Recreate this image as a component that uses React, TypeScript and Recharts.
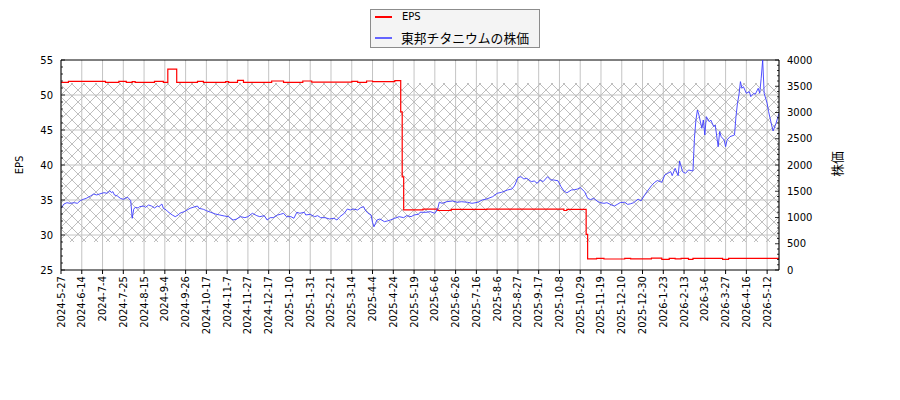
import React from "react";
import {
  LineChart,
  Line,
  XAxis,
  YAxis,
  CartesianGrid,
  ReferenceArea,
  ReferenceLine,
  Legend,
} from "recharts";

// x axis: trading-day index, one label every 14 trading days
const tickDates = [
  "2024-5-27", "2024-6-14", "2024-7-4", "2024-7-25", "2024-8-15", "2024-9-4",
  "2024-9-26", "2024-10-17", "2024-11-7", "2024-11-27", "2024-12-17", "2025-1-10",
  "2025-1-31", "2025-2-21", "2025-3-14", "2025-4-4", "2025-4-24", "2025-5-19",
  "2025-6-6", "2025-6-26", "2025-7-16", "2025-8-6", "2025-8-27", "2025-9-17",
  "2025-10-8", "2025-10-29", "2025-11-19", "2025-12-10", "2025-12-30", "2026-1-23",
  "2026-2-13", "2026-3-6", "2026-3-27", "2026-4-16", "2026-5-12",
];
const tickStep = 14;
const lastDay = 484;

// 株価 (right axis)
const priceDay = [
  0, 2, 4, 6, 9, 11, 13, 15, 17, 20, 22, 24, 26, 29, 31, 33, 34, 35, 36, 38,
  40, 42, 44, 45, 47, 48, 49, 50, 52, 53, 56, 57, 59, 61, 63, 65, 66, 68, 69, 71,
  72, 75, 77, 79, 80, 83, 85, 87, 89, 92, 93, 96, 98, 101, 104, 107, 110, 113, 116, 118,
  121, 124, 126, 129, 132, 134, 137, 139, 141, 143, 146, 148, 150, 152, 155, 157, 159, 161, 164, 165,
  168, 171, 173, 175, 178, 181, 184, 186, 188, 191, 193, 195, 197, 200, 202, 204, 205, 207, 209, 210,
  211, 212, 213, 215, 218, 220, 222, 225, 228, 231, 233, 236, 238, 241, 242, 246, 249, 252, 254, 255,
  257, 260, 264, 267, 270, 274, 277, 281, 284, 287, 291, 294, 297, 301, 304, 306, 308, 310, 312, 314,
  317, 319, 321, 323, 325, 328, 330, 332, 335, 337, 339, 341, 344, 346, 348, 350, 353, 355, 357, 359,
  362, 364, 366, 368, 371, 373, 375, 377, 380, 382, 384, 386, 389, 391, 393, 395, 398, 400, 402, 405,
  407, 409, 411, 412, 414, 416, 417, 419, 421, 423, 426, 427, 428, 429, 430, 432, 433, 434, 435, 437,
  438, 440, 441, 443, 444, 445, 447, 448, 449, 451, 454, 455, 456, 457, 458, 459, 460, 462, 464, 465,
  467, 468, 470, 471, 472, 473, 474, 476, 477, 479, 480, 482, 483, 484,
];
const priceVal = [
  1175, 1257, 1282, 1270, 1282, 1270, 1320, 1346, 1365, 1410, 1448, 1429, 1448, 1473, 1461, 1511, 1473, 1492, 1429, 1410,
  1365, 1346, 1378, 1384, 1320, 985, 1156, 1194, 1181, 1206, 1219, 1194, 1238, 1219, 1181, 1219, 1206, 1257, 1175, 1143,
  1111, 1048, 1016, 1048, 1080, 1111, 1143, 1175, 1194, 1219, 1175, 1156, 1130, 1099, 1067, 1048, 1029, 1016, 952, 966,
  1016, 997, 1016, 1080, 1035, 1016, 1035, 952, 997, 997, 1048, 1061, 1080, 1016, 1016, 985, 1099, 1080, 1099, 1048,
  1061, 1016, 1035, 997, 997, 972, 985, 952, 1016, 1080, 1162, 1143, 1162, 1143, 1187, 1206, 1143, 1080, 1048, 908,
  825, 889, 952, 972, 921, 934, 952, 985, 1016, 997, 1035, 1016, 1048, 1061, 1100, 1099, 1111, 1080, 1175, 1290,
  1270, 1301, 1314, 1290, 1301, 1290, 1270, 1290, 1334, 1353, 1397, 1461, 1480, 1524, 1543, 1619, 1759, 1778, 1734, 1746,
  1683, 1696, 1651, 1715, 1683, 1778, 1715, 1715, 1700, 1590, 1505, 1470, 1524, 1530, 1540, 1570, 1490, 1365, 1340, 1365,
  1301, 1280, 1270, 1282, 1240, 1219, 1250, 1285, 1290, 1250, 1262, 1282, 1350, 1315, 1410, 1492, 1605, 1665, 1705, 1670,
  1810, 1842, 1873, 1797, 1937, 1797, 2076, 1873, 1842, 1905, 1886, 2509, 2857, 3048, 2953, 2699, 2857, 2572, 2921, 2826,
  2857, 2731, 2762, 2349, 2636, 2540, 2477, 2349, 2477, 2540, 2572, 2921, 3175, 3334, 3588, 3461, 3492, 3366, 3397, 3302,
  3366, 3347, 3461, 3366, 3652, 4000, 3366, 3175, 3016, 2762, 2648, 2794, 2890, 2985,
];

// EPS (left axis), value changes only
const epsDay = [
  0, 5, 30, 39, 44, 48, 50, 63, 69, 72, 78, 92, 96, 111, 113, 119, 123, 142, 150, 163,
  169, 196, 200, 206, 210, 225, 229, 230, 231, 244, 254, 263, 287, 339, 341, 354, 355, 361, 366, 380,
  384, 398, 405, 410, 414, 418, 423, 426, 446, 450, 484,
];
const epsVal = [
  51.8, 51.95, 51.8, 51.95, 51.8, 51.9, 51.8, 51.95, 51.8, 53.7, 51.8, 51.95, 51.8, 51.9, 51.8, 52.1, 51.8, 52.0, 51.8, 52.0,
  51.85, 51.95, 51.8, 52.0, 51.9, 52.05, 47.6, 38.3, 33.6, 33.7, 33.5, 33.65, 33.7, 33.5, 33.67, 30.1, 26.6, 26.66, 26.57, 26.66,
  26.6, 26.7, 26.52, 26.67, 26.58, 26.67, 26.52, 26.67, 26.52, 26.67, 26.67,
];

const hatchLow = 29;
const hatchHigh = 51.7;
const epsGrid = [30, 35, 40, 45, 50];

type Row = { d: number; price: number | null; eps: number | null };
const byDay = new Map<number, Row>();
const rowAt = (d: number) => {
  let r = byDay.get(d);
  if (!r) {
    r = { d, price: null, eps: null };
    byDay.set(d, r);
  }
  return r;
};
priceDay.forEach((d, k) => (rowAt(d).price = priceVal[k]));
epsDay.forEach((d, k) => (rowAt(d).eps = epsVal[k]));
const rows = [...byDay.values()].sort((a, b) => a.d - b.d);

const xTicks = tickDates.map((_, k) => k * tickStep);
const epsTicks = Array.from({ length: 31 }, (_, k) => 25 + k);
const priceTicks = Array.from({ length: 41 }, (_, k) => k * 100);

const latin = "'DejaVu Sans', sans-serif";
const cjk = "'Noto Sans CJK JP', sans-serif";
const RED = "#ff0000";
const BLUE = "#3c3cff";

function DateTick({ x, y, payload }: any) {
  const label = tickDates[Math.round(payload.value / tickStep)] ?? "";
  return (
    <text
      x={x}
      y={y}
      dy="0.35em"
      textAnchor="end"
      transform={`rotate(-90, ${x}, ${y})`}
      fontSize={10}
      fontFamily={latin}
      fill="#000"
    >
      {label}
    </text>
  );
}

function EpsTick({ x, y, payload }: any) {
  const v = payload.value;
  const major = v % 5 === 0;
  const ax = x + 8;
  return (
    <g>
      <line x1={ax} x2={ax + (major ? 4 : 2)} y1={y} y2={y} stroke="#000" strokeWidth={0.8} />
      {major && (
        <text x={x} y={y} dy="0.35em" textAnchor="end" fontSize={10} fontFamily={latin} fill="#000">
          {v}
        </text>
      )}
    </g>
  );
}

function PriceTick({ x, y, payload }: any) {
  const v = payload.value;
  const major = v % 500 === 0;
  const ax = x - 8;
  return (
    <g>
      <line x1={ax} x2={ax - (major ? 4 : 2)} y1={y} y2={y} stroke="#000" strokeWidth={0.8} />
      {major && (
        <text x={x} y={y} dy="0.35em" textAnchor="start" fontSize={10} fontFamily={latin} fill="#000">
          {v}
        </text>
      )}
    </g>
  );
}

function LegendBox() {
  return (
    <div
      style={{
        position: "relative",
        width: 170,
        height: 39,
        boxSizing: "border-box",
        border: "1px solid #8c8c8c",
        background: "#f4f4f4",
      }}
    >
      <div style={{ position: "absolute", left: 4, top: 6, width: 17, height: 1.5, background: RED }} />
      <span
        style={{ position: "absolute", left: 31, top: 1, fontSize: 10, lineHeight: "12px", fontFamily: latin, whiteSpace: "nowrap" }}
      >
        EPS
      </span>
      <div style={{ position: "absolute", left: 4, top: 27, width: 17, height: 1.5, background: "#6464ff" }} />
      <span
        style={{ position: "absolute", left: 30, top: 20, fontSize: 12.8, lineHeight: "15px", fontFamily: cjk, whiteSpace: "nowrap" }}
      >
        東邦チタニウムの株価
      </span>
    </div>
  );
}

export default function App() {
  return (
    <div style={{ position: "absolute", left: 0, top: 0, width: 900, height: 400, background: "#fff" }}>
      <LineChart width={900} height={400} data={rows} margin={{ top: 60, right: 71, bottom: 60, left: 11 }}>
        <defs>
          <pattern id="xhatch" patternUnits="userSpaceOnUse" width={12} height={12}>
            <path d="M0,0 L12,12 M12,0 L0,12" stroke="#b8b8b8" strokeWidth={0.9} fill="none" />
          </pattern>
        </defs>
        <CartesianGrid horizontal={false} stroke="#c4c4c4" strokeWidth={1} />
        <XAxis
          dataKey="d"
          type="number"
          domain={[0, lastDay]}
          ticks={xTicks}
          interval={0}
          allowDataOverflow
          height={70}
          tickSize={4}
          tickMargin={2}
          tickLine={{ stroke: "#000" }}
          axisLine={{ stroke: "#000" }}
          tick={<DateTick />}
        />
        <YAxis
          yAxisId="eps"
          orientation="left"
          domain={[25, 55]}
          ticks={epsTicks}
          interval={0}
          allowDataOverflow
          width={50}
          tickSize={4}
          tickMargin={4}
          tickLine={false}
          axisLine={{ stroke: "#000" }}
          tick={<EpsTick />}
        />
        <YAxis
          yAxisId="price"
          orientation="right"
          domain={[0, 4000]}
          ticks={priceTicks}
          interval={0}
          allowDataOverflow
          width={50}
          tickSize={4}
          tickMargin={4}
          tickLine={false}
          axisLine={{ stroke: "#000" }}
          tick={<PriceTick />}
        />
        <ReferenceArea yAxisId="eps" y1={hatchLow} y2={hatchHigh} fill="url(#xhatch)" fillOpacity={1} stroke="none" />
        {epsGrid.map((v) => (
          <ReferenceLine key={v} yAxisId="eps" y={v} stroke="#c4c4c4" strokeWidth={1} />
        ))}
        <ReferenceLine yAxisId="eps" y={55} stroke="#000" strokeWidth={1} />
        <Legend layout="vertical" align="center" verticalAlign="middle" wrapperStyle={{ left: 370, top: 9, width: 170 }} content={() => <LegendBox />} />
        <Line
          yAxisId="eps"
          name="EPS"
          dataKey="eps"
          type="stepAfter"
          stroke={RED}
          strokeWidth={1.2}
          dot={false}
          activeDot={false}
          connectNulls
          isAnimationActive={false}
        />
        <Line
          yAxisId="price"
          name="東邦チタニウムの株価"
          dataKey="price"
          type="linear"
          stroke={BLUE}
          strokeWidth={0.9}
          dot={false}
          activeDot={false}
          connectNulls
          isAnimationActive={false}
        />
      </LineChart>
      <div
        style={{
          position: "absolute",
          left: 20,
          top: 165,
          transform: "translate(-50%, -50%) rotate(-90deg)",
          fontSize: 10,
          lineHeight: "12px",
          fontFamily: latin,
          whiteSpace: "nowrap",
        }}
      >
        EPS
      </div>
      <div
        style={{
          position: "absolute",
          left: 836,
          top: 164,
          transform: "translate(-50%, -50%) rotate(-90deg)",
          fontSize: 12.8,
          lineHeight: "15px",
          fontFamily: cjk,
          whiteSpace: "nowrap",
        }}
      >
        株価
      </div>
    </div>
  );
}
